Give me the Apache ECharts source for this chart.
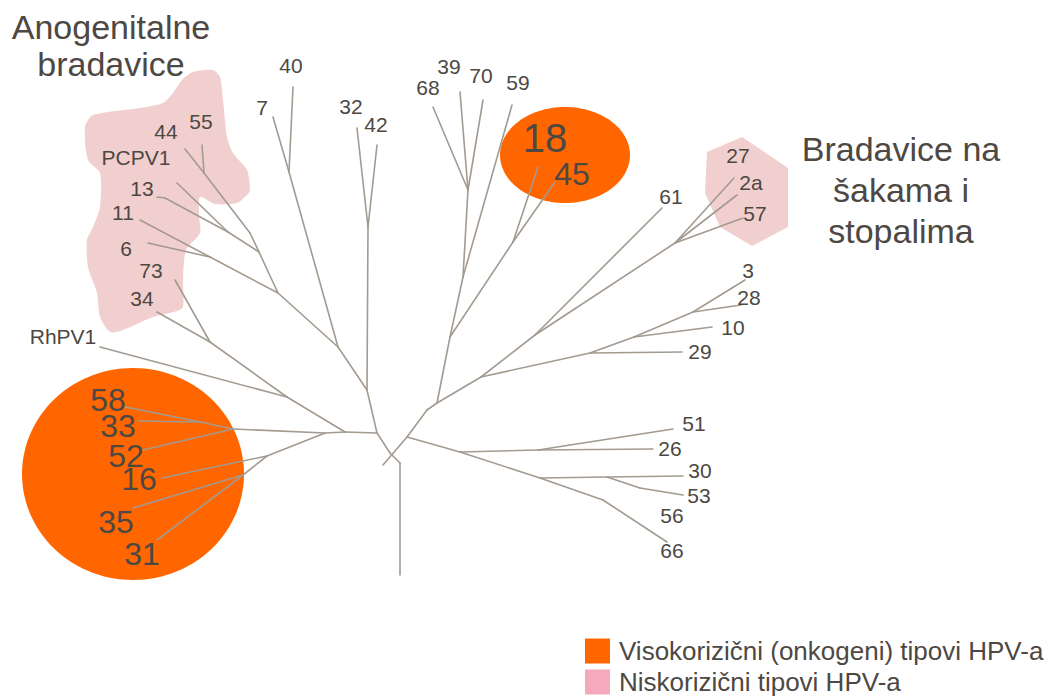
<!DOCTYPE html>
<html><head><meta charset="utf-8">
<script src="https://cdn.jsdelivr.net/npm/echarts@6/dist/echarts.min.js"></script>
<style>html,body{margin:0;padding:0;background:#fff}#c{width:1059px;height:697px}</style>
</head><body><div id="c"></div>
<script>
// ---- DATA (coordinates in the chart's own 1059 x 697 value space) ----
const nodes = [
 ['root',400,575],['x2',400,463],['x1',390,453],['L',377,433],
 ['bS',383,465],['b1',407,437],['b2',427,410],['R',437,403],
 ['n32',367,390],['n3242',368,227],['t32',357,128],['t42',377,145],
 ['n7',338,347],['n40',289,172],['t7',273,117],['t40',293,87],
 ['nB',278,293],['nA',259,252],['n44b',250,233],['n55',204,173],['t44',185,149],['t55',202,145],
 ['n13P',228,232],['k13',165,198],['t13',157,197],['tPCPV1',177,183],
 ['n6',210,257],['t11',140,220],['t6',148,243],
 ['n34',345,432],['nRh',287,397],['n73',210,342],['t34',157,312],['t73',175,280],['tRhPV1',100,347],
 ['n16j',325,433],['nJ16',267,456],['n3531',243,475],['t16',162,478],['t35',133,508],['t31',157,540],
 ['n58j',233,429],['n5833',200,422],['t58',125,407],['t33',138,421],['t52',143,450],
 ['nT1',450,337],['nT2',463,277],['nT3',468,190],['t68',433,107],['t39',460,92],['t70',483,100],['t59',512,105],
 ['n1845',513,242],['t18',538,167],['t45',555,182],
 ['nA2',481,377],['n61',535,335],['t61',662,208],['n2a',675,243],['t27',734,178],['t2a',737,195],['t57',743,218],
 ['n29',590,353],['t29',682,352],['n10',634,337],['t10',712,327],['n28',693,312],['t28',741,305],['t3',745,280],
 ['n26',460,452],['n51',538,450],['t26',653,449],['t51',673,429],
 ['n30',540,478],['n53',607,477],['k53',640,488],['t30',683,476],['t53',683,495],
 ['n66',603,500],['t66',667,542]
];
const edges = [
 ['root','x2'],['x2','x1'],['x1','L'],
 ['bS','b1'],['b1','b2'],['b2','R'],
 ['L','n32'],['n32','n3242'],['n3242','t32'],['n3242','t42'],
 ['n32','n7'],['n7','n40'],['n40','t7'],['n40','t40'],
 ['n7','nB'],['nB','nA'],['nA','n44b'],['n44b','n55'],['n55','t44'],['n55','t55'],
 ['nA','n13P'],['n13P','k13'],['k13','t13'],['n13P','tPCPV1'],
 ['nB','n6'],['n6','t11'],['n6','t6'],
 ['L','n34'],['n34','nRh'],['nRh','n73'],['n73','t34'],['n73','t73'],['nRh','tRhPV1'],
 ['n34','n16j'],['n16j','nJ16'],['nJ16','t16'],['nJ16','n3531'],['n3531','t35'],['n3531','t31'],
 ['n16j','n58j'],['n58j','n5833'],['n5833','t58'],['n5833','t33'],['n58j','t52'],
 ['R','nT1'],['nT1','nT2'],['nT2','nT3'],['nT3','t68'],['nT3','t39'],['nT3','t70'],['nT2','t59'],
 ['nT1','n1845'],['n1845','t18'],['n1845','t45'],
 ['R','nA2'],['nA2','n61'],['n61','t61'],['n61','n2a'],['n2a','t27'],['n2a','t2a'],['n2a','t57'],
 ['nA2','n29'],['n29','t29'],['n29','n10'],['n10','t10'],['n10','n28'],['n28','t28'],['n28','t3'],
 ['b1','n26'],['n26','n51'],['n51','t26'],['n51','t51'],
 ['n26','n30'],['n30','n53'],['n53','t30'],['n53','k53'],['k53','t53'],['n30','n66'],['n66','t66']
];
// high-risk clusters: centre x, centre y, radius x, radius y
const orangeBlobs = [[133,474,111,106],[565,155,65,48]];
// low-risk clusters (outlines)
const anogenitalBlob = [[93,115],[140,108],[163,103],[173,93],[182,80],[193,72],[213,70],[220,77],[223,100],[227,137],[233,153],[247,170],[250,190],[247,195],[237,203],[215,204],[200,197],[199,215],[200,233],[186,250],[183,280],[183,307],[177,311],[153,317],[123,330],[110,332],[100,317],[97,293],[88,267],[87,240],[93,227],[100,207],[100,173],[88,160],[85,127]];
const handBlob = [[742,137],[788,168],[788,227],[752,246],[720,227],[705,193],[707,152]];
const smallLabels = [
 ['44',166,131],['55',201,121],['PCPV1',136,157],['13',142,188],['11',123,212],['6',126,248],['73',151,270],['34',142,298],['RhPV1',63,336],
 ['7',262,107],['40',291,65],['32',351,106],['42',376,124],
 ['68',428,87],['39',449,66],['70',481,75],['59',518,82],
 ['61',671,196],['27',738,155],['2a',751,182],['57',755,213],
 ['3',748,270],['28',749,297],['10',733,327],['29',700,351],
 ['51',694,423],['26',670,448],['30',700,470],['53',699,495],['56',672,515],['66',672,550]
];
const bigLabels = [['58',108,400],['33',118,426],['52',126,456],['16',139,479],['35',116,522],['31',142,554],['45',572,174]];
const hugeLabels = [['18',545,138]];
const headings = [['Anogenitalne\nbradavice',111,45],['Bradavice na\nšakama i\nstopalima',901,190]];
const legendNames = ['Visokorizični (onkogeni) tipovi HPV-a','Niskorizični tipovi HPV-a'];

// ---- STYLE ----
const FONT = '"Liberation Sans", Arial, sans-serif';
const TEXT = '#4d4843';
const LINE = '#a39a90';
const ORANGE = '#FF6600';
const PINK_BLOB = '#F2CFCF';
const PINK_KEY = '#F4A9BD';

const pos = {};
nodes.forEach(n => pos[n[0]] = [n[1], n[2]]);

function textSeries(list, size, lh, z) {
  return {
    type: 'custom', coordinateSystem: 'cartesian2d', silent: true, z: z || 10,
    data: list.map(d => [d[1], d[2]]),
    renderItem: (params, api) => {
      const p = api.coord([api.value(0), api.value(1)]);
      return {
        type: 'text', x: p[0], y: p[1],
        style: {
          text: list[params.dataIndex][0], fontSize: size, fontFamily: FONT, fill: TEXT,
          align: 'center', verticalAlign: 'middle', textAlign: 'center', textVerticalAlign: 'middle',
          lineHeight: lh || size
        }
      };
    }
  };
}

const pinkShapes = [anogenitalBlob, handBlob];

const chart = echarts.init(document.getElementById('c'), null, {renderer: 'svg'});
chart.setOption({
  animation: false,
  grid: {left: 0, right: 0, top: 0, bottom: 0},
  xAxis: {type: 'value', min: 0, max: 1059, show: false},
  yAxis: {type: 'value', min: 0, max: 697, inverse: true, show: false},
  legend: {
    orient: 'vertical', left: 585, top: 638, padding: 0, itemWidth: 25, itemHeight: 25, itemGap: 5,
    icon: 'rect', selectedMode: false,
    textStyle: {fontSize: 26, fontFamily: FONT, color: TEXT, padding: [0, 0, 0, 4]},
    data: [
      {name: legendNames[0], itemStyle: {color: ORANGE}},
      {name: legendNames[1], itemStyle: {color: PINK_KEY}}
    ]
  },
  series: [
    {
      name: legendNames[1], type: 'custom', coordinateSystem: 'cartesian2d', silent: true, z: 1,
      itemStyle: {color: PINK_KEY},
      data: pinkShapes.map((s, i) => [s[0][0], s[0][1], i]),
      renderItem: (params, api) => {
        const pts = pinkShapes[params.dataIndex].map(p => api.coord(p));
        return {type: 'polygon', shape: {points: pts, smooth: params.dataIndex === 0 ? 0.25 : 0}, style: {fill: PINK_BLOB}};
      }
    },
    {
      name: legendNames[0], type: 'custom', coordinateSystem: 'cartesian2d', silent: true, z: 1,
      itemStyle: {color: ORANGE},
      data: orangeBlobs,
      renderItem: (params, api) => {
        const c = api.coord([api.value(0), api.value(1)]);
        const s = api.size([api.value(2), api.value(3)]);
        const rx = Math.abs(s[0]), ry = Math.abs(s[1]);
        const pts = [];
        for (let k = 0; k < 120; k++) {
          const a = k / 120 * Math.PI * 2;
          pts.push([c[0] + rx * Math.cos(a), c[1] + ry * Math.sin(a)]);
        }
        return {type: 'polygon', shape: {points: pts}, style: {fill: ORANGE}};
      }
    },
    {
      type: 'lines', coordinateSystem: 'cartesian2d', silent: true, z: 2,
      lineStyle: {color: LINE, width: 1.6, opacity: 1, cap: 'round', join: 'round'},
      data: edges.map(e => ({coords: [pos[e[0]], pos[e[1]]]}))
    },
    textSeries(smallLabels, 21),
    textSeries(bigLabels, 32),
    textSeries(hugeLabels, 40),
    textSeries([headings[0]], 34, 37),
    textSeries([headings[1]], 34, 41)
  ]
});
</script></body></html>
